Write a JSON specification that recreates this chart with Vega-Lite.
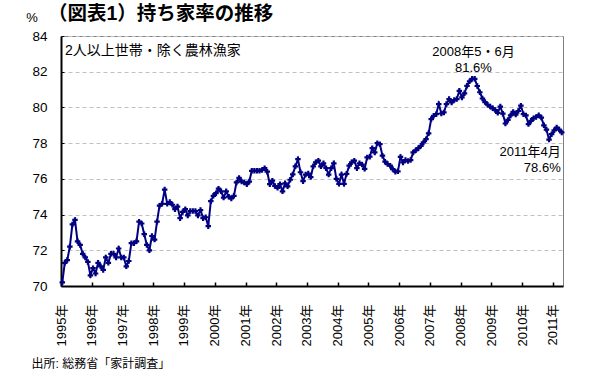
{
  "$schema": "https://vega.github.io/schema/vega-lite/v6.json",
  "width": 502,
  "height": 250,
  "autosize": {"type": "none"},
  "padding": {"left": 61, "top": 36, "right": 37, "bottom": 87},
  "background": "white",
  "config": {
    "font": "Liberation Sans, Noto Sans CJK JP",
    "view": {"stroke": "#808080", "strokeWidth": 1}
  },
  "layer": [
    {
      "data": {"values": [
        {"date":"1995-01","value":70.2},{"date":"1995-02","value":71.3},{"date":"1995-03","value":71.45},{"date":"1995-04","value":72.2},{"date":"1995-05","value":73.45},{"date":"1995-06","value":73.7},{"date":"1995-07","value":72.5},{"date":"1995-08","value":72.3},{"date":"1995-09","value":71.8},{"date":"1995-10","value":71.6},{"date":"1995-11","value":71.35},{"date":"1995-12","value":70.6},
        {"date":"1996-01","value":71.0},{"date":"1996-02","value":70.7},{"date":"1996-03","value":71.3},{"date":"1996-04","value":71.1},{"date":"1996-05","value":70.9},{"date":"1996-06","value":71.6},{"date":"1996-07","value":71.3},{"date":"1996-08","value":71.8},{"date":"1996-09","value":71.8},{"date":"1996-10","value":71.6},{"date":"1996-11","value":72.1},{"date":"1996-12","value":71.6},
        {"date":"1997-01","value":71.6},{"date":"1997-02","value":71.1},{"date":"1997-03","value":71.4},{"date":"1997-04","value":72.4},{"date":"1997-05","value":72.4},{"date":"1997-06","value":72.5},{"date":"1997-07","value":73.6},{"date":"1997-08","value":73.5},{"date":"1997-09","value":72.9},{"date":"1997-10","value":72.3},{"date":"1997-11","value":72.0},{"date":"1997-12","value":72.8},
        {"date":"1998-01","value":72.6},{"date":"1998-02","value":73.6},{"date":"1998-03","value":74.5},{"date":"1998-04","value":74.6},{"date":"1998-05","value":75.4},{"date":"1998-06","value":74.6},{"date":"1998-07","value":74.7},{"date":"1998-08","value":74.55},{"date":"1998-09","value":74.3},{"date":"1998-10","value":74.45},{"date":"1998-11","value":73.8},{"date":"1998-12","value":74.15},
        {"date":"1999-01","value":74.3},{"date":"1999-02","value":73.95},{"date":"1999-03","value":74.2},{"date":"1999-04","value":74.2},{"date":"1999-05","value":74.2},{"date":"1999-06","value":73.95},{"date":"1999-07","value":74.25},{"date":"1999-08","value":73.8},{"date":"1999-09","value":73.85},{"date":"1999-10","value":73.35},{"date":"1999-11","value":74.75},{"date":"1999-12","value":75.05},
        {"date":"2000-01","value":75.2},{"date":"2000-02","value":75.45},{"date":"2000-03","value":75.3},{"date":"2000-04","value":74.95},{"date":"2000-05","value":75.3},{"date":"2000-06","value":75.0},{"date":"2000-07","value":74.9},{"date":"2000-08","value":75.05},{"date":"2000-09","value":75.8},{"date":"2000-10","value":76.05},{"date":"2000-11","value":75.85},{"date":"2000-12","value":75.8},
        {"date":"2001-01","value":75.7},{"date":"2001-02","value":75.85},{"date":"2001-03","value":76.45},{"date":"2001-04","value":76.45},{"date":"2001-05","value":76.45},{"date":"2001-06","value":76.45},{"date":"2001-07","value":76.5},{"date":"2001-08","value":76.6},{"date":"2001-09","value":76.4},{"date":"2001-10","value":75.7},{"date":"2001-11","value":75.9},{"date":"2001-12","value":75.6},
        {"date":"2002-01","value":75.5},{"date":"2002-02","value":75.7},{"date":"2002-03","value":75.3},{"date":"2002-04","value":75.75},{"date":"2002-05","value":75.58},{"date":"2002-06","value":75.95},{"date":"2002-07","value":76.25},{"date":"2002-08","value":76.7},{"date":"2002-09","value":77.1},{"date":"2002-10","value":76.37},{"date":"2002-11","value":75.87},{"date":"2002-12","value":76.24},
        {"date":"2003-01","value":76.3},{"date":"2003-02","value":76.1},{"date":"2003-03","value":76.7},{"date":"2003-04","value":76.93},{"date":"2003-05","value":77.02},{"date":"2003-06","value":76.7},{"date":"2003-07","value":76.87},{"date":"2003-08","value":76.6},{"date":"2003-09","value":76.24},{"date":"2003-10","value":76.6},{"date":"2003-11","value":76.87},{"date":"2003-12","value":76.0},
        {"date":"2004-01","value":75.72},{"date":"2004-02","value":76.24},{"date":"2004-03","value":75.72},{"date":"2004-04","value":76.28},{"date":"2004-05","value":76.74},{"date":"2004-06","value":76.93},{"date":"2004-07","value":77.02},{"date":"2004-08","value":76.6},{"date":"2004-09","value":76.87},{"date":"2004-10","value":76.8},{"date":"2004-11","value":76.56},{"date":"2004-12","value":77.2},
        {"date":"2005-01","value":77.24},{"date":"2005-02","value":77.72},{"date":"2005-03","value":77.48},{"date":"2005-04","value":78.0},{"date":"2005-05","value":77.94},{"date":"2005-06","value":77.3},{"date":"2005-07","value":76.96},{"date":"2005-08","value":76.83},{"date":"2005-09","value":76.74},{"date":"2005-10","value":76.55},{"date":"2005-11","value":76.4},{"date":"2005-12","value":76.42},
        {"date":"2006-01","value":77.23},{"date":"2006-02","value":76.92},{"date":"2006-03","value":77.05},{"date":"2006-04","value":77.0},{"date":"2006-05","value":77.05},{"date":"2006-06","value":77.48},{"date":"2006-07","value":77.6},{"date":"2006-08","value":77.72},{"date":"2006-09","value":77.85},{"date":"2006-10","value":78.04},{"date":"2006-11","value":78.22},{"date":"2006-12","value":78.55},
        {"date":"2007-01","value":79.35},{"date":"2007-02","value":79.53},{"date":"2007-03","value":79.62},{"date":"2007-04","value":80.19},{"date":"2007-05","value":79.66},{"date":"2007-06","value":79.72},{"date":"2007-07","value":80.19},{"date":"2007-08","value":80.47},{"date":"2007-09","value":80.28},{"date":"2007-10","value":80.41},{"date":"2007-11","value":80.47},{"date":"2007-12","value":80.93},
        {"date":"2008-01","value":80.56},{"date":"2008-02","value":80.79},{"date":"2008-03","value":81.21},{"date":"2008-04","value":81.46},{"date":"2008-05","value":81.6},{"date":"2008-06","value":81.6},{"date":"2008-07","value":81.2},{"date":"2008-08","value":80.85},{"date":"2008-09","value":80.5},{"date":"2008-10","value":80.3},{"date":"2008-11","value":80.15},{"date":"2008-12","value":80.05},
        {"date":"2009-01","value":79.95},{"date":"2009-02","value":79.85},{"date":"2009-03","value":79.7},{"date":"2009-04","value":80.05},{"date":"2009-05","value":79.65},{"date":"2009-06","value":79.1},{"date":"2009-07","value":79.3},{"date":"2009-08","value":79.55},{"date":"2009-09","value":79.75},{"date":"2009-10","value":79.6},{"date":"2009-11","value":79.8},{"date":"2009-12","value":80.1},
        {"date":"2010-01","value":79.62},{"date":"2010-02","value":79.55},{"date":"2010-03","value":79.07},{"date":"2010-04","value":79.25},{"date":"2010-05","value":79.4},{"date":"2010-06","value":79.47},{"date":"2010-07","value":79.56},{"date":"2010-08","value":79.43},{"date":"2010-09","value":79.0},{"date":"2010-10","value":78.76},{"date":"2010-11","value":78.2},{"date":"2010-12","value":78.5},
        {"date":"2011-01","value":78.72},{"date":"2011-02","value":78.87},{"date":"2011-03","value":78.76},{"date":"2011-04","value":78.6}
      ]},
      "mark": {
        "type": "line",
        "color": "#000080",
        "strokeWidth": 2,
        "point": {"shape": "cross", "size": 30, "filled": true, "color": "#000080"}
      },
      "encoding": {
        "x": {
          "field": "date",
          "type": "temporal",
          "timeUnit": "utcyearmonth",
          "bandPosition": 0.5,
          "scale": {
            "type": "utc",
            "domain": [
              {"year": 1995, "month": 1, "date": 1, "utc": true},
              {"year": 2011, "month": 5, "date": 1, "utc": true}
            ]
          },
          "axis": {
            "tickCount": {"interval": "year", "step": 1},
            "labelExpr": "utcFormat(datum.value, '%Y') + '年'",
            "labelAngle": 270,
            "labelAlign": "right",
            "labelBaseline": "middle",
            "labelFontSize": 13,
            "labelColor": "black",
            "labelPadding": 22,
            "labelOverlap": false,
            "tickSize": -4,
            "tickWidth": 1.5,
            "tickColor": "black",
            "domainColor": "black",
            "domainWidth": 2,
            "grid": false,
            "title": "出所: 総務省「家計調査」",
            "titleAnchor": "start",
            "titleAlign": "left",
            "titleBaseline": "middle",
            "titleX": -30,
            "titleY": 77,
            "titleFontSize": 12,
            "titleFontWeight": "normal",
            "titleColor": "black"
          }
        },
        "y": {
          "field": "value",
          "type": "quantitative",
          "scale": {"domain": [70, 84], "nice": false, "zero": false},
          "axis": {
            "values": [70, 72, 74, 76, 78, 80, 82, 84],
            "tickCount": 8,
            "labelOverlap": false,
            "labelFontSize": 13.5,
            "labelColor": "black",
            "labelPadding": 17,
            "tickSize": -3,
            "tickWidth": 1,
            "tickColor": "black",
            "domainColor": "black",
            "domainWidth": 2,
            "grid": true,
            "gridDash": [4, 3],
            "gridColor": "#c0c0c0",
            "gridWidth": 1,
            "title": null
          }
        }
      }
    },
    {
      "data": {"values": [{"date": "2008-05", "value": 81.6, "label": "2008年5・6月\n81.6%"}]},
      "mark": {"type": "text", "align": "center", "baseline": "bottom", "lineBreak": "\n", "lineHeight": 16, "dy": -20, "fontSize": 13, "color": "black"},
      "encoding": {
        "x": {"field": "date", "type": "temporal", "timeUnit": "utcyearmonth", "bandPosition": 1},
        "y": {"field": "value", "type": "quantitative"},
        "text": {"field": "label"}
      }
    },
    {
      "data": {"values": [{"date": "2011-04", "value": 78.6, "label": "2011年4月\n78.6%"}]},
      "mark": {"type": "text", "align": "right", "baseline": "top", "lineBreak": "\n", "lineHeight": 16, "dy": 14, "dx": -1, "fontSize": 13, "color": "black"},
      "encoding": {
        "x": {"field": "date", "type": "temporal", "timeUnit": "utcyearmonth", "bandPosition": 0.5},
        "y": {"field": "value", "type": "quantitative"},
        "text": {"field": "label"}
      }
    },
    {
      "data": {"values": [{}]},
      "mark": {"type": "text", "text": "2人以上世帯・除く農林漁家", "align": "left", "baseline": "middle", "dx": 4, "dy": 15, "fontSize": 14, "color": "black"},
      "encoding": {
        "x": {"datum": {"year": 1995, "month": 1, "date": 1, "utc": true}, "type": "temporal"},
        "y": {"datum": 84, "type": "quantitative"}
      }
    },
    {
      "data": {"values": [{}]},
      "mark": {"type": "text", "text": "%", "align": "center", "baseline": "middle", "dx": -29, "dy": -18, "fontSize": 13, "color": "black"},
      "encoding": {
        "x": {"datum": {"year": 1995, "month": 1, "date": 1, "utc": true}, "type": "temporal"},
        "y": {"datum": 84, "type": "quantitative"}
      }
    },
    {
      "data": {"values": [{}]},
      "mark": {"type": "text", "text": "（図表1）持ち家率の推移", "align": "left", "baseline": "alphabetic", "dx": -13, "dy": -16, "fontSize": 19.5, "fontWeight": "bold", "color": "black"},
      "encoding": {
        "x": {"datum": {"year": 1995, "month": 1, "date": 1, "utc": true}, "type": "temporal"},
        "y": {"datum": 84, "type": "quantitative"}
      }
    }
  ]
}
